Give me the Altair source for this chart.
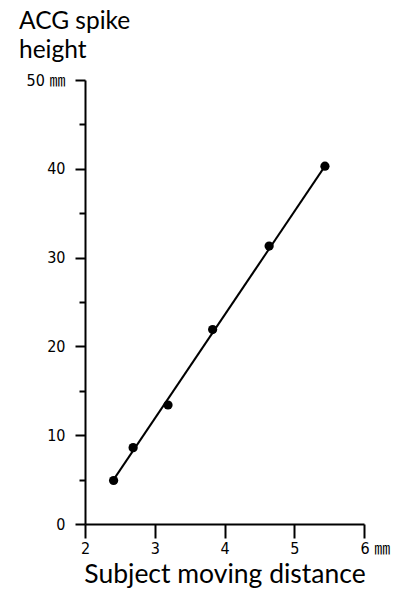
import altair as alt
import pandas as pd

# Data points
moving_distance = [2.41, 2.69, 3.19, 3.83, 4.64, 5.44]
spike_height = [4.9, 8.6, 13.4, 21.9, 31.3, 40.3]

# Fitted line end points
line_x = [2.41, 5.44]
line_y = [5.0, 40.3]

x_ticks = [2, 2.5, 3, 3.5, 4, 4.5, 5, 5.5, 6]
y_ticks = [0, 5, 10, 15, 20, 25, 30, 35, 40, 45, 50]

pts = pd.DataFrame({"x": moving_distance, "y": spike_height})
fit = pd.DataFrame({"x": line_x, "y": line_y})

label_font = "DejaVu Sans Condensed, Liberation Sans Narrow, Noto Sans CJK JP, sans-serif"

x_enc = alt.X(
    "x:Q",
    scale=alt.Scale(domain=[2, 6], nice=False, zero=False),
    axis=alt.Axis(
        values=x_ticks,
        title="Subject moving distance",
        titleFont="Lato",
        titleFontSize=26.5,
        titleFontWeight="normal",
        titleColor="black",
        titleBaseline="alphabetic",
        titleY=58,
        labelExpr="datum.value % 1 != 0 ? '' : (datum.value == 6 ? '6 ㎜' : format(datum.value, 'd'))",
        labelFont=label_font,
        labelFontSize=16,
        labelColor="black",
        labelPadding=2,
        labelOverlap=False,
        labelFlush=False,
        labelAlign={"condition": {"test": "datum.value == 6", "value": "left"}, "value": "center"},
        labelOffset={"condition": {"test": "datum.value == 6", "value": -4}, "value": 0},
        tickSize={"condition": {"test": "datum.value % 1 != 0", "value": 7}, "value": 14},
        tickColor="black",
        tickWidth=2,
        domainColor="black",
        domainWidth=2,
        grid=False,
    ),
)

y_enc = alt.Y(
    "y:Q",
    scale=alt.Scale(domain=[0, 50], nice=False),
    axis=alt.Axis(
        values=y_ticks,
        title=None,
        labelExpr="datum.value % 10 != 0 ? '' : (datum.value == 50 ? '50 ㎜' : format(datum.value, 'd'))",
        labelFont=label_font,
        labelFontSize=16,
        labelColor="black",
        labelPadding=10,
        labelOverlap=False,
        labelFlush=False,
        tickSize={"condition": {"test": "datum.value % 10 != 0", "value": 6}, "value": 10},
        tickColor="black",
        tickWidth=2,
        domainColor="black",
        domainWidth=2,
        grid=False,
    ),
)

line = alt.Chart(fit).mark_line(color="black", strokeWidth=2).encode(x=x_enc, y=y_enc)
dots = alt.Chart(pts).mark_circle(color="black", opacity=1, size=85).encode(x="x:Q", y="y:Q")

chart = (
    alt.layer(line, dots)
    .properties(
        width=279,
        height=444,
        background="white",
        autosize=alt.AutoSizeParams(type="none"),
        padding={"left": 77, "top": 72, "right": 28, "bottom": 75},
        title=alt.TitleParams(
            ["ACG spike", "height"],
            anchor="start",
            frame="group",
            dx=-66,
            dy=35,
            font="Lato",
            fontSize=24.5,
            fontWeight="normal",
            color="black",
            lineHeight=29,
            baseline="alphabetic",
            offset=25,
        ),
    )
    .configure_view(strokeWidth=0, stroke="transparent")
)

chart.save("out.html", embed_options={"renderer": "svg", "actions": False})
